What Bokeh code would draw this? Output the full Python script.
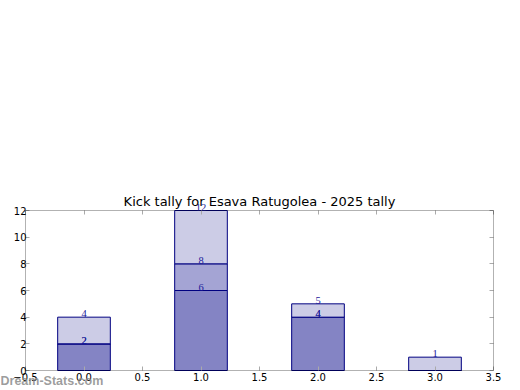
from bokeh.plotting import figure
from bokeh.models import (ColumnDataSource, LinearAxis, FixedTicker, CustomJSTickFormatter,
                          Label, Range1d, BoxAnnotation)
from bokeh.embed import file_html
from bokeh.resources import INLINE

categories = [0, 1, 2, 3]
series_dark = [2, 6, 4, 0]
series_mid = [0, 2, 0, 0]
series_light = [2, 4, 1, 1]
x_ticks = [-0.5, 0.0, 0.5, 1.0, 1.5, 2.0, 2.5, 3.0, 3.5]
y_ticks = [0, 2, 4, 6, 8, 10, 12]
title_text = "Kick tally for Esava Ratugolea - 2025 tally"
watermark = "Dream-Stats.com"

FONT = "DejaVu Sans"
bar_w = 0.45

# layout (pixels) of the axes box inside the canvas
W, H = 504, 390
box_l, box_r, box_t, box_b = 25, 493, 210, 370
x_lo, x_hi = x_ticks[0], x_ticks[-1]
y_lo, y_hi = y_ticks[0], y_ticks[-1]
sx = (box_r - box_l) / (x_hi - x_lo)
sy = (box_b - box_t) / (y_hi - y_lo)
x_range = Range1d(x_lo - box_l / sx, x_hi + (W - box_r) / sx)
y_range = Range1d(y_lo - (H - box_b) / sy, y_hi + box_t / sy)

p = figure(width=W, height=H, output_backend="svg", toolbar_location=None,
           x_range=x_range, y_range=y_range,
           x_axis_location=None, y_axis_location=None,
           min_border=0, min_border_left=0, min_border_right=0,
           min_border_top=0, min_border_bottom=0)
p.xgrid.visible = False
p.ygrid.visible = False
p.outline_line_color = None
p.background_fill_color = "white"
p.border_fill_color = "white"

colors = ["#8484c4", "#a4a4d4", "#ccccE6"]
bottoms = [0] * len(categories)
labels_x, labels_y = [], []
for vals, col in zip([series_dark, series_mid, series_light], colors):
    tops = [b + v for b, v in zip(bottoms, vals)]
    src = ColumnDataSource(dict(left=[c - bar_w / 2 for c in categories],
                                right=[c + bar_w / 2 for c in categories],
                                bottom=bottoms, top=tops))
    p.quad(left="left", right="right", bottom="bottom", top="top", source=src,
           fill_color=col, line_color="#000080", line_width=1)
    for c, t in zip(categories, tops):
        if t > 0:
            labels_x.append(c)
            labels_y.append(t)
    bottoms = tops

# axes box
p.add_layout(BoxAnnotation(left=x_lo, right=x_hi, bottom=y_lo, top=y_hi,
                           fill_alpha=0, fill_color=None, line_color="black", line_width=1,
                           level="overlay"))

lsrc = ColumnDataSource(dict(x=labels_x, y=labels_y, t=[str(v) for v in labels_y]))
p.text(x="x", y="y", text="t", source=lsrc, text_align="center", text_baseline="bottom",
       y_offset=0, text_font_size="10.5px", text_color="#1a1a9a", text_font=FONT)

fmt = CustomJSTickFormatter(code="return tick.toFixed(1).replace('-', '\u2212');")
blank = CustomJSTickFormatter(code="return '';")

def style_axis(ax):
    ax.axis_line_color = None
    ax.major_tick_in = 4
    ax.major_tick_out = 0
    ax.major_tick_line_color = "#aaaaaa"
    ax.minor_tick_line_color = None
    ax.major_label_text_font = FONT
    ax.major_label_text_font_size = "10px"
    ax.major_label_text_color = "black"
    ax.major_label_standoff = 2

xb = LinearAxis(ticker=FixedTicker(ticks=x_ticks), formatter=fmt, fixed_location=y_lo)
style_axis(xb)
p.add_layout(xb, "below")
yl = LinearAxis(ticker=FixedTicker(ticks=y_ticks), fixed_location=x_lo)
style_axis(yl)
yl.major_label_standoff = -1
p.add_layout(yl, "left")
xt = LinearAxis(ticker=FixedTicker(ticks=x_ticks), formatter=blank, fixed_location=y_hi)
style_axis(xt)
p.add_layout(xt, "above")
yr = LinearAxis(ticker=FixedTicker(ticks=y_ticks), formatter=blank, fixed_location=x_hi)
style_axis(yr)
p.add_layout(yr, "right")

p.add_layout(Label(x=(x_lo + x_hi) / 2, y=y_hi, y_offset=2, text=title_text,
                   text_align="center", text_baseline="bottom",
                   text_font=FONT, text_font_size="13px", text_color="black"))

p.add_layout(Label(x=0, y=3, x_units="screen", y_units="screen", text=watermark,
                   text_font="Liberation Sans", text_font_size="12.5px", text_font_style="bold",
                   text_color="#8c8c8c", text_alpha=0.85, level="overlay"))

open("out.html", "w").write(file_html(p, INLINE))
